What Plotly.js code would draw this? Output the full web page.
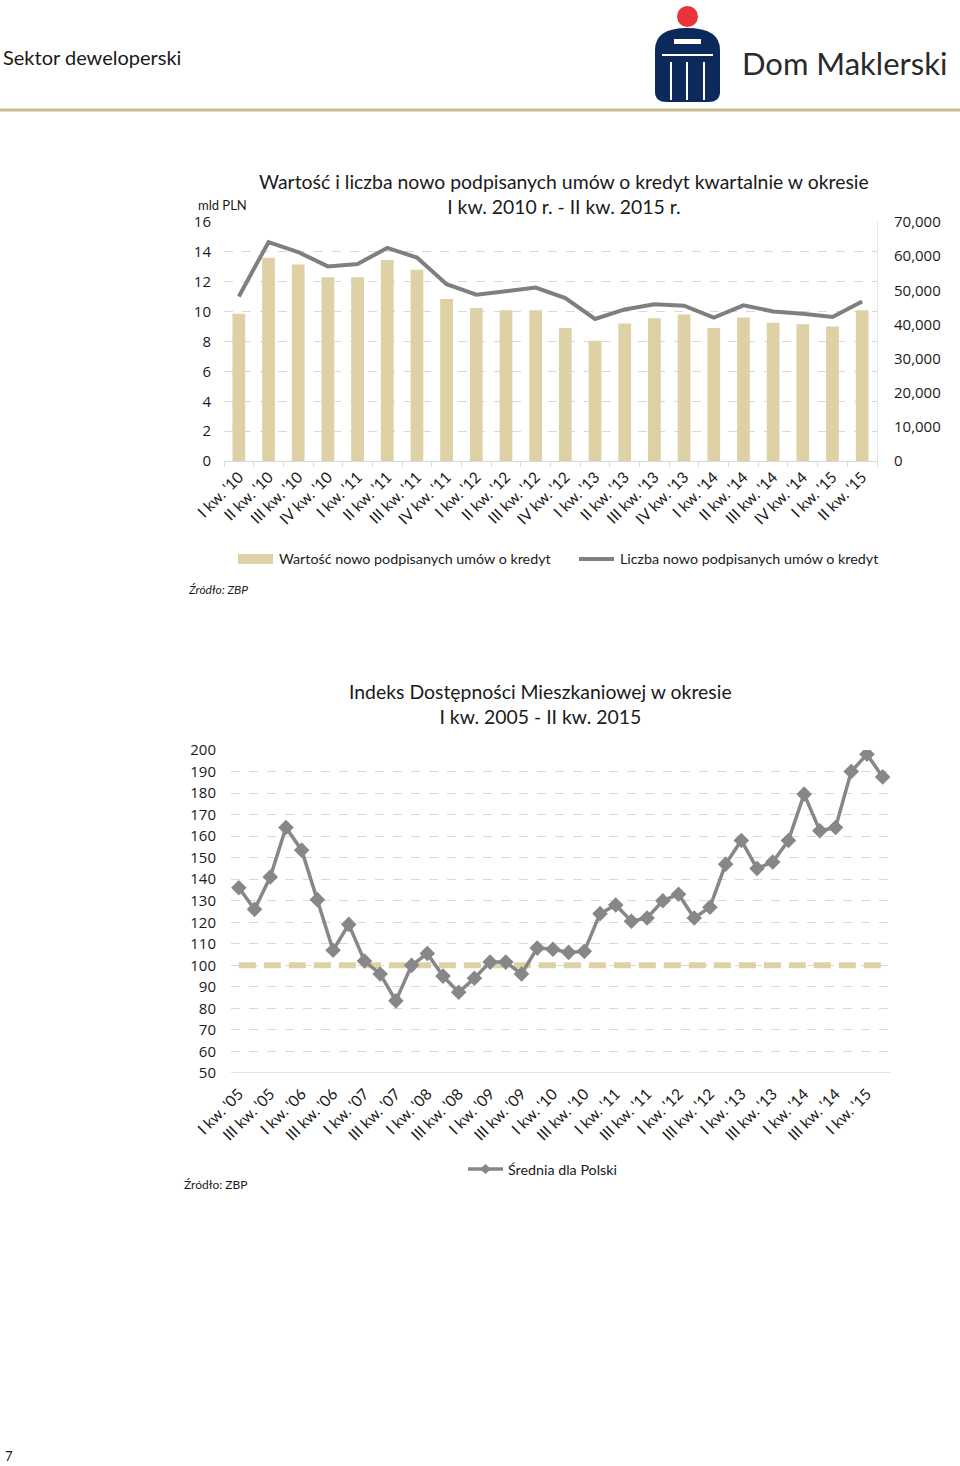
<!DOCTYPE html>
<html>
<head>
<meta charset="utf-8">
<script src="https://cdn.plot.ly/plotly-3.0.1.min.js"></script>
<style>
html,body{margin:0;padding:0;background:#fff;}
#chart{width:960px;height:1466px;}
</style>
</head>
<body>
<div id="chart"></div>
<script>
// ---------- DATA ----------
const quarters1 = ["I kw. '10","II kw. '10","III kw. '10","IV kw. '10",
  "I kw. '11","II kw. '11","III kw. '11","IV kw. '11",
  "I kw. '12","II kw. '12","III kw. '12","IV kw. '12",
  "I kw. '13","II kw. '13","III kw. '13","IV kw. '13",
  "I kw. '14","II kw. '14","III kw. '14","IV kw. '14",
  "I kw. '15","II kw. '15"];
const valueBn = [9.85,13.6,13.15,12.3,12.3,13.45,12.8,10.85,10.25,10.1,10.1,8.9,
  8.05,9.2,9.55,9.8,8.9,9.6,9.25,9.15,9.0,10.1];
const contractCount = [48200,64100,61200,57000,57700,62400,59600,51800,48700,49800,50800,47700,
  41600,44400,45900,45500,42000,45600,43800,43100,42200,46700];

const quarters2 = ["I kw. '05","II kw. '05","III kw. '05","IV kw. '05",
  "I kw. '06","II kw. '06","III kw. '06","IV kw. '06",
  "I kw. '07","II kw. '07","III kw. '07","IV kw. '07",
  "I kw. '08","II kw. '08","III kw. '08","IV kw. '08",
  "I kw. '09","II kw. '09","III kw. '09","IV kw. '09",
  "I kw. '10","II kw. '10","III kw. '10","IV kw. '10",
  "I kw. '11","II kw. '11","III kw. '11","IV kw. '11",
  "I kw. '12","II kw. '12","III kw. '12","IV kw. '12",
  "I kw. '13","II kw. '13","III kw. '13","IV kw. '13",
  "I kw. '14","II kw. '14","III kw. '14","IV kw. '14",
  "I kw. '15","II kw. '15"];
const affordIndex = [136,126,141,164,153.5,130.5,107,119,102,96,83.5,100,
  105.5,95,87.5,94,101.5,101.5,96,108,107.5,106,106.5,124,
  128,120.5,122,130,133,122,127,147,158,145,148,158,
  179.5,162.5,164,190,198,187.5];
const baseline100 = [100,100,100,100,100,100,100,100,100,100,100,100,100,100,
  100,100,100,100,100,100,100,100,100,100,100,100,100,100,
  100,100,100,100,100,100,100,100,100,100,100,100,100,100];
const tickCats2 = ["I kw. '05","III kw. '05","I kw. '06","III kw. '06","I kw. '07","III kw. '07",
  "I kw. '08","III kw. '08","I kw. '09","III kw. '09","I kw. '10","III kw. '10",
  "I kw. '11","III kw. '11","I kw. '12","III kw. '12","I kw. '13","III kw. '13",
  "I kw. '14","III kw. '14","I kw. '15"];

// ---------- HELPERS (page pixel -> paper) ----------
const W = 960, H = 1466;
const px = x => x / W;
const py = y => 1 - y / H;

const BEIGE = '#DDD1A5';
const GRAY = '#7F7F7F';
const GRID = '#D9D9D9';
const TXT = '#1a1a1a';
const FONT = 'Lato, "Open Sans", sans-serif';
const NUMFONT = '"Open Sans", Lato, sans-serif';

const traces = [
  {type:'bar', x:quarters1, y:valueBn, xaxis:'x', yaxis:'y',
   marker:{color:BEIGE}, name:'Wartość nowo podpisanych umów o kredyt', hoverinfo:'skip'},
  {type:'scatter', mode:'lines', x:quarters1, y:contractCount, xaxis:'x', yaxis:'y2',
   line:{color:GRAY, width:4}, name:'Liczba nowo podpisanych umów o kredyt', hoverinfo:'skip'},
  {type:'scatter', mode:'lines', x:quarters2, y:baseline100, xaxis:'x2', yaxis:'y3',
   line:{color:BEIGE, width:6, dash:'17px,8px'}, hoverinfo:'skip'},
  {type:'scatter', mode:'lines+markers', x:quarters2, y:affordIndex, xaxis:'x2', yaxis:'y3',
   line:{color:'#878787', width:3.5}, marker:{symbol:'diamond', size:12, color:'#878787'},
   name:'Średnia dla Polski', hoverinfo:'skip'}
];

const shapes = [
  // header separator
  {type:'line', xref:'paper', yref:'paper', x0:0, x1:1, y0:py(110), y1:py(110),
   line:{color:'#C9BC8E', width:3}},
  // logo body
  {type:'path', xref:'paper', yref:'paper',
   path:`M ${px(655)} ${py(50)} Q ${px(655)} ${py(28)} ${px(687)} ${py(28)} Q ${px(720)} ${py(28)} ${px(720)} ${py(50)} L ${px(720)} ${py(92)} Q ${px(720)} ${py(102)} ${px(708)} ${py(102)} L ${px(667)} ${py(102)} Q ${px(655)} ${py(102)} ${px(655)} ${py(92)} Z`,
   fillcolor:'#0B2A5B', line:{width:0}},
  {type:'path', xref:'paper', yref:'paper',
   path:`M ${px(674)} ${py(39)} L ${px(701)} ${py(39)} L ${px(701)} ${py(44)} L ${px(674)} ${py(44)} Z`,
   fillcolor:'#ffffff', line:{width:0}},
  {type:'line', xref:'paper', yref:'paper', x0:px(662), x1:px(713), y0:py(55), y1:py(55), line:{color:'#ffffff', width:2}},
  {type:'line', xref:'paper', yref:'paper', x0:px(671), x1:px(671), y0:py(62), y1:py(100), line:{color:'#ffffff', width:2}},
  {type:'line', xref:'paper', yref:'paper', x0:px(687), x1:px(687), y0:py(62), y1:py(100), line:{color:'#ffffff', width:2}},
  {type:'line', xref:'paper', yref:'paper', x0:px(704), x1:px(704), y0:py(62), y1:py(100), line:{color:'#ffffff', width:2}},
  {type:'circle', xref:'paper', yref:'paper', x0:px(677), x1:px(698), y0:py(6), y1:py(27),
   fillcolor:'#E8343A', line:{width:0}},
  // legend chart 1
  {type:'rect', xref:'paper', yref:'paper', x0:px(238), x1:px(273), y0:py(554), y1:py(564),
   fillcolor:BEIGE, line:{width:0}},
  {type:'line', xref:'paper', yref:'paper', x0:px(579), x1:px(614), y0:py(559), y1:py(559),
   line:{color:GRAY, width:4}},
  // legend chart 2
  {type:'line', xref:'paper', yref:'paper', x0:px(468), x1:px(503), y0:py(1169), y1:py(1169),
   line:{color:'#878787', width:3.5}},
  {type:'path', xref:'paper', yref:'paper',
   path:`M ${px(480)} ${py(1169)} L ${px(485.5)} ${py(1164)} L ${px(491)} ${py(1169)} L ${px(485.5)} ${py(1174)} Z`,
   fillcolor:'#878787', line:{width:0}},
  // solid base line of chart 2 at the axis minimum
  {type:'line', xref:'x2 domain', yref:'y3', x0:0, x1:1, y0:50, y1:50, line:{color:GRID, width:1.5}}
];

const ann = (text, x, y, size, opts={}) => Object.assign({
  text, xref:'paper', yref:'paper', x:px(x), y:py(y), showarrow:false,
  xanchor:'left', yanchor:'middle', font:{family:FONT, size, color:TXT}
}, opts);

const annotations = [
  ann('Sektor deweloperski', 1, 57, 20),
  ann('Dom Maklerski', 740, 63, 31, {font:{family:FONT, size:31, color:'#2a2a2a'}}),
  ann('Wartość i liczba nowo podpisanych umów o kredyt kwartalnie w okresie<br>I kw. 2010 r. - II kw. 2015 r.',
      564, 194, 19.4, {xanchor:'center'}),
  ann('mld PLN', 196, 205, 13),
  ann('Wartość nowo podpisanych umów o kredyt', 277, 559, 14.3),
  ann('Liczba nowo podpisanych umów o kredyt', 618, 559, 14.3),
  ann('<i>Źródło: ZBP</i>', 186, 589, 12),
  ann('Indeks Dostępności Mieszkaniowej w okresie<br>I kw. 2005 - II kw. 2015',
      540, 704, 19.4, {xanchor:'center'}),
  ann('Średnia dla Polski', 506, 1169, 14.3),
  ann('Źródło: ZBP', 182, 1184, 12),
  ann('7', 3, 1456, 13)
];

const layout = {
  width:W, height:H, margin:{l:0, r:0, t:0, b:0},
  paper_bgcolor:'#fff', plot_bgcolor:'#fff',
  showlegend:false, bargap:0.57,
  font:{family:FONT, color:TXT},
  xaxis:{domain:[px(224), px(877)], anchor:'y', type:'category', range:[-0.5, 21.5],
    showgrid:false, showline:true, linecolor:GRID, linewidth:1,
    ticks:'outside', tickson:'boundaries', ticklen:5, tickcolor:GRID,
    tickangle:-45, tickfont:{family:FONT, size:15.5, color:TXT}},
  yaxis:{domain:[py(461), py(222)], anchor:'x', range:[0,16], dtick:2,
    showgrid:true, gridcolor:GRID, griddash:'dash', zeroline:false, showline:false,
    ticks:'', ticklabelstandoff:12, tickfont:{family:NUMFONT, size:15, color:TXT}},
  yaxis2:{overlaying:'y', side:'right', anchor:'x', range:[0,70000], dtick:10000,
    tickformat:',', showgrid:false, zeroline:false, showline:true, linecolor:'#E6E6E6',
    ticks:'', ticklabelstandoff:13, tickfont:{family:NUMFONT, size:15, color:TXT}},
  xaxis2:{domain:[px(231), px(890.5)], anchor:'y3', type:'category', range:[-0.5, 41.5],
    showgrid:false, showline:false, ticks:'', ticklabelstandoff:8,
    tickvals:tickCats2, ticktext:tickCats2,
    tickangle:-45, tickfont:{family:FONT, size:15.5, color:TXT}},
  yaxis3:{domain:[py(1073), py(750)], anchor:'x2', range:[50,200], dtick:10,
    showgrid:true, gridcolor:GRID, griddash:'dash', zeroline:false,
    showline:false, ticks:'', ticklabelstandoff:14,
    tickfont:{family:NUMFONT, size:15, color:TXT}},
  shapes,
  annotations
};

Plotly.newPlot('chart', traces, layout, {staticPlot:true, displayModeBar:false});
</script>
</body>
</html>
